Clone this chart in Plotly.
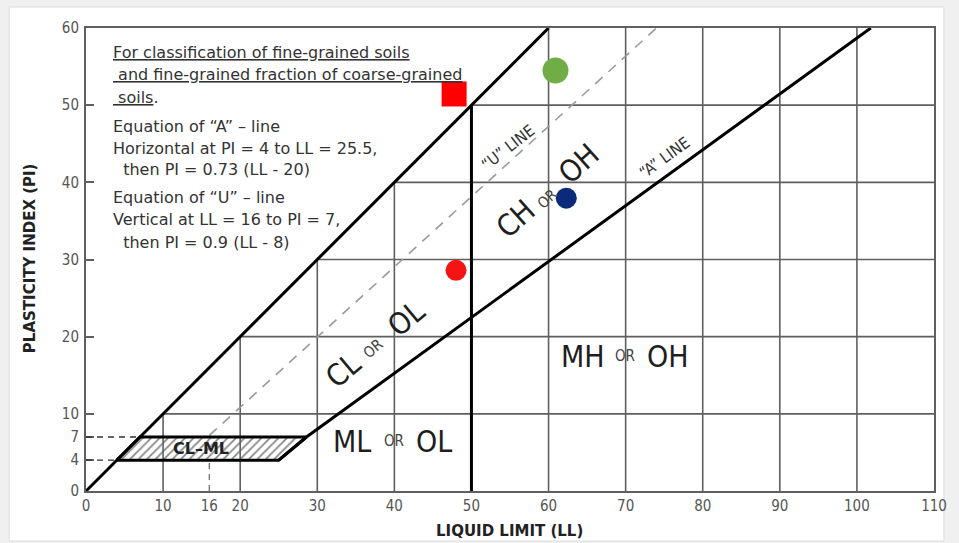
import plotly.graph_objects as go

# ---- axis ticks ----
ll_ticks = [0, 10, 16, 20, 30, 40, 50, 60, 70, 80, 90, 100, 110]
pi_ticks = [0, 4, 7, 10, 20, 30, 40, 50, 60]

# grid lines (drawn only below the PI = LL limit line)
grid_ll = [10, 20, 30, 40, 60, 70, 80, 90, 100]
grid_pi = [10, 20, 30, 40, 50]

# ---- chart lines ----
limit_ll = [0, 60]          # PI = LL limit line
limit_pi = [0, 60]
ll50_ll = [50, 50]          # LL = 50 divide
ll50_pi = [0, 50]
a_line_ll = [25.0, 28.6, 101.8]
a_line_pi = [4.0, 7.0, 60.0]
u_line_ll = [16.0, 74.0]
u_line_pi = [7.2, 60.0]
clml_ll = [4, 25.0, 28.6, 7, 4]
clml_pi = [4, 4, 7, 7, 4]

# ---- sample points ----
sample_ll = [47.75, 48.0, 60.9, 62.3, 62.3]
sample_pi = [51.45, 28.6, 54.5, 37.95, 61.4]
sample_symbol = ["square", "circle", "circle", "circle", "circle"]
sample_color = ["#ff0000", "#f41414", "#70ad47", "#0b2a7a", "#ffffff"]
sample_size = [25, 21, 26, 21, 24]

# ---- zone labels: (word, LL, PI, angle) ----
zone_words = [
    ("ML", 34.55, 6.46, 0), ("OR", 39.95, 6.42, 0), ("OL", 45.1, 6.44, 0),
    ("MH", 64.45, 17.45, 0), ("OR", 69.9, 17.45, 0), ("OH", 75.45, 17.45, 0),
    ("CL", 33.3, 15.64, -40), ("OR", 37.18, 18.45, -40), ("OL", 41.5, 22.34, -40),
    ("CH", 55.74, 35.3, -42), ("OR", 59.83, 37.89, -42), ("OH", 63.93, 42.43, -42),
]

GRID = "#5f5f5f"
FONT = "DejaVu Sans"
CFONT = "DejaVu Sans Condensed, DejaVu Sans"

fig = go.Figure()

# hatched CL-ML band (fill only, outline added later)
fig.add_trace(go.Scatter(
    x=clml_ll, y=clml_pi, mode="lines", fill="toself",
    line=dict(width=0, color="rgba(0,0,0,0)"),
    fillcolor="white",
    fillpattern=dict(shape="/", fgcolor="#111111", bgcolor="white",
                     size=6, solidity=0.3),
    hoverinfo="skip", showlegend=False))

# grid
gx, gy = [], []
for v in grid_ll:
    gx += [v, v, None]
    gy += [0, min(v, 60), None]
for h in grid_pi:
    gx += [h, 110, None]
    gy += [h, h, None]
fig.add_trace(go.Scatter(x=gx, y=gy, mode="lines",
                         line=dict(color=GRID, width=1.6),
                         hoverinfo="skip", showlegend=False))

# dashed guide lines at PI = 7, PI = 4 and LL = 16
fig.add_trace(go.Scatter(x=[0, 7, None, 0, 4], y=[7, 7, None, 4, 4], mode="lines",
                         line=dict(color="#333333", width=1.4, dash="6px,5px"),
                         hoverinfo="skip", showlegend=False))
fig.add_trace(go.Scatter(x=[16, 16], y=[0, 4], mode="lines",
                         line=dict(color="#777777", width=1.4, dash="6px,5px"),
                         hoverinfo="skip", showlegend=False))

# U-line
fig.add_trace(go.Scatter(x=u_line_ll, y=u_line_pi, mode="lines",
                         line=dict(color="#9a9a9a", width=1.6, dash="10px,8px"),
                         hoverinfo="skip", showlegend=False))

# heavy lines
for xs, ys in [(limit_ll, limit_pi), (ll50_ll, ll50_pi),
               (a_line_ll, a_line_pi), (clml_ll, clml_pi)]:
    fig.add_trace(go.Scatter(x=xs, y=ys, mode="lines",
                             line=dict(color="black", width=3),
                             hoverinfo="skip", showlegend=False))

# samples
fig.add_trace(go.Scatter(
    x=sample_ll, y=sample_pi, mode="markers", cliponaxis=False,
    marker=dict(symbol=sample_symbol, color=sample_color, size=sample_size,
                opacity=1, line=dict(width=0)),
    hoverinfo="skip", showlegend=False))

ann = []


def txt(x, y, text, size, angle=0, anchor="center", color="#222222", family=FONT):
    ann.append(dict(x=x, y=y, xref="x", yref="y", text=text, showarrow=False,
                    textangle=angle, xanchor=anchor, yanchor="middle",
                    font=dict(family=family, size=size, color=color)))


# notes block
notes = [
    (3.3, 56.8, "<u>For classification of fine-grained soils</u>"),
    (3.3, 54.0, "<u> and fine-grained fraction of coarse-grained</u>"),
    (3.3, 51.0, "<u> soils</u>."),
    (3.3, 47.2, "Equation of “A” – line"),
    (3.3, 44.4, "Horizontal at PI = 4 to LL = 25.5,"),
    (3.3, 41.6, "  then PI = 0.73 (LL - 20)"),
    (3.3, 38.0, "Equation of “U” – line"),
    (3.3, 35.2, "Vertical at LL = 16 to PI = 7,"),
    (3.3, 32.2, "  then PI = 0.9 (LL - 8)"),
]
for x, y, t in notes:
    txt(x, y, t.replace("  ", "&nbsp;&nbsp;"), 16, anchor="left", color="#333333")

for word, x, y, ang in zone_words:
    size = 15 if word == "OR" else 30
    color = "#444444" if word == "OR" else "#1e1e1e"
    txt(x, y, word, size, angle=ang, color=color, family=CFONT)

txt(54.74, 44.5, "“U” LINE", 16, angle=-38, color="#333333", family=CFONT)
txt(75.06, 43.2, "“A” LINE", 16, angle=-36, color="#333333", family=CFONT)
txt(14.9, 5.45, "<b>CL–ML</b>", 16, color="#222222")

# axis titles, placed in pixels then converted to paper coordinates
L, R, T, B = 86, 23, 28, 52
W, H = 959, 543
pw, ph = W - L - R, H - T - B
for px, py, t, ang in [(510, 531, "<b>LIQUID LIMIT (LL)</b>", 0),
                       (30, 258, "<b>PLASTICITY INDEX (PI)</b>", -90)]:
    ann.append(dict(x=(px - L) / pw, y=(H - B - py) / ph, xref="paper", yref="paper",
                    text=t, showarrow=False, textangle=ang,
                    xanchor="center", yanchor="middle",
                    font=dict(family=FONT, size=15, color="#222222")))

# card background
fig.add_shape(type="rect", xref="paper", yref="paper",
              x0=(9 - L) / pw, x1=(946 - L) / pw,
              y0=(H - B - 541) / ph, y1=(H - B - 7) / ph,
              fillcolor="white", line=dict(color="#dcdcdc", width=1), layer="below")

fig.update_layout(
    width=W, height=H,
    margin=dict(l=L, r=R, t=T, b=B),
    paper_bgcolor="#f0f0f0", plot_bgcolor="white",
    annotations=ann,
    xaxis=dict(range=[0, 110], tickvals=ll_ticks, ticktext=[str(v) for v in ll_ticks],
               showgrid=False, zeroline=False, showline=True, mirror=True,
               linecolor=GRID, linewidth=2, ticks="", layer="below traces",
               tickfont=dict(family=CFONT, size=15, color="#555555")),
    yaxis=dict(range=[0, 60], tickvals=pi_ticks, ticktext=[str(v) for v in pi_ticks],
               showgrid=False, zeroline=False, showline=True, mirror=True,
               linecolor=GRID, linewidth=2, ticks="inside", ticklen=8,
               tickcolor=GRID, tickwidth=1.5, ticklabelstandoff=2, layer="below traces",
               tickfont=dict(family=CFONT, size=15, color="#555555")),
)

fig.write_html("out.html")
